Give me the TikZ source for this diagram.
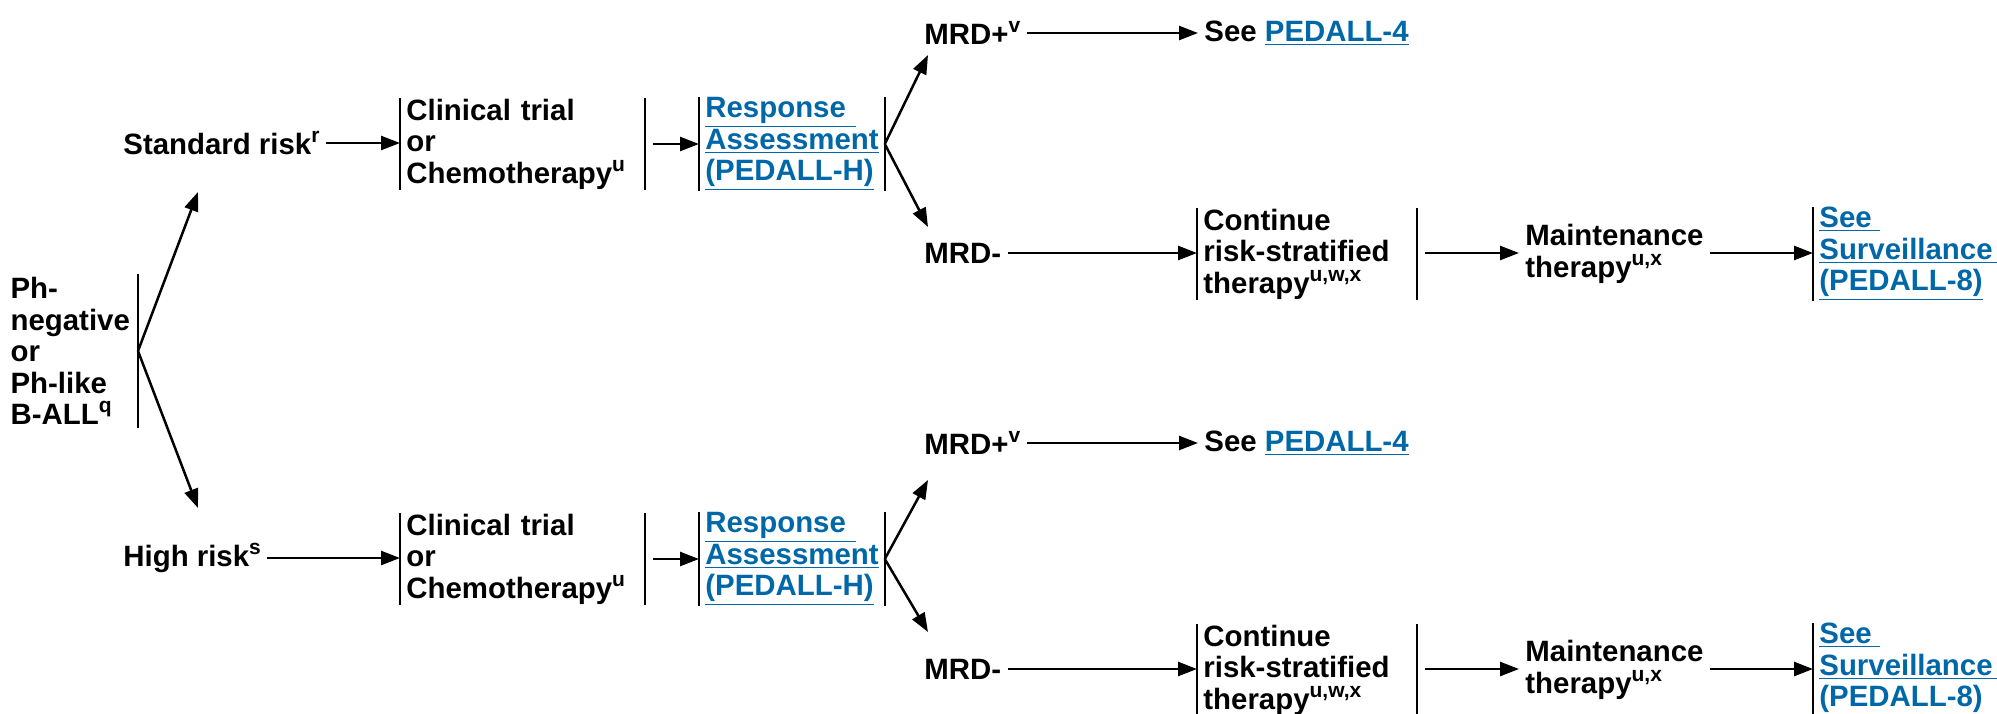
\documentclass[tikz,border=0pt]{standalone}
\usepackage{fontspec}
\setmainfont{Liberation Sans}
\usetikzlibrary{arrows.meta}

\definecolor{linkblue}{RGB}{0,104,168}
\newcommand{\lnk}[1]{\textcolor{linkblue}{\underline{#1}}}
\newcommand{\sups}[1]{\raisebox{0.4em}{\fontsize{10.5}{10.5}\selectfont #1}}

\tikzset{
    txt/.style={anchor=west, align=left, inner xsep=3pt, inner ysep=0pt,
        font=\bfseries\fontsize{14.7}{15.75}\selectfont},
    blk/.style={txt, minimum height=45pt},
    arr/.style={-{Triangle[length=9.5pt,width=7pt]}, line width=1.25pt},
    bar/.style={line width=0.9pt},
}

\begin{document}
\begin{tikzpicture}[x=0.5pt, y=-0.5pt]
    \useasboundingbox (0, 0) rectangle (1997, 713);

    % start
    \node[txt, anchor=east, text width=60.5pt, minimum height=77pt] (ph) at (138, 351)
        {Ph-\\negative\\or\\Ph-like\\B-ALL\sups{q}};
    \draw[bar] (ph.north east) -- (ph.south east);
    \coordinate (stdin) at (198, 192);
    \coordinate (hiin) at (198, 508);
    \draw[arr] (ph.east) -- (stdin);
    \draw[arr] (ph.east) -- (hiin);

    % standard risk
    \node[txt] (std) at (117, 143) {Standard risk\sups{r}};
    \node[blk, text width=116pt] (ct1) at (400, 144) {Clinical trial\\or\\Chemotherapy\sups{u}};
    \node[blk, text width=86.5pt] (ra1) at (699, 144)
        {\lnk{Response }\\\lnk{Assessment}\\\lnk{(PEDALL-H)}};
    \node[txt] (mrdp1) at (918, 33) {MRD+\sups{v}};
    \node[txt] (see1) at (1198, 33) {See \lnk{PEDALL-4}};
    \node[txt] (mrdm1) at (918, 253) {MRD-};
    \node[blk, text width=103.5pt] (co1) at (1197, 254)
        {Continue\\risk-stratified\\therapy\sups{u,w,x}};
    \node[txt] (mt1) at (1519, 254) {Maintenance\\therapy\sups{u,x}};
    \node[blk] (sv1) at (1813, 254) {\lnk{See }\\\lnk{Surveillance }\\\lnk{(PEDALL-8)}};
    \coordinate (up1) at (928, 55);
    \coordinate (dn1) at (928, 227);

    \draw[bar] (ct1.north west) -- (ct1.south west) (ct1.north east) -- (ct1.south east);
    \draw[bar] (ra1.north west) -- (ra1.south west) (ra1.north east) -- (ra1.south east);
    \draw[bar] (co1.north west) -- (co1.south west) (co1.north east) -- (co1.south east);
    \draw[bar] (sv1.north west) -- (sv1.south west);

    \draw[arr] (std) -- (ct1.west |- std);
    \draw[arr, shorten <=4pt] (ct1) -- (ra1);
    \draw[arr] (ra1.east) -- (up1);
    \draw[arr] (ra1.east) -- (dn1);
    \draw[arr] (mrdp1) -- (see1);
    \draw[arr] (mrdm1) -- (co1.west |- mrdm1);
    \draw[arr, shorten <=4pt] (co1.east |- mrdm1) -- (mt1.west |- mrdm1);
    \draw[arr] (mt1.east |- mrdm1) -- (sv1.west |- mrdm1);

    % high risk
    \node[txt] (hi) at (117, 558) {High risk\sups{s}};
    \node[blk, text width=116pt] (ct2) at (400, 559) {Clinical trial\\or\\Chemotherapy\sups{u}};
    \node[blk, text width=86.5pt] (ra2) at (699, 559)
        {\lnk{Response }\\\lnk{Assessment}\\\lnk{(PEDALL-H)}};
    \node[txt] (mrdp2) at (918, 443) {MRD+\sups{v}};
    \node[txt] (see2) at (1198, 443) {See \lnk{PEDALL-4}};
    \node[txt] (mrdm2) at (918, 669) {MRD-};
    \node[blk, text width=103.5pt] (co2) at (1197, 670)
        {Continue\\risk-stratified\\therapy\sups{u,w,x}};
    \node[txt] (mt2) at (1519, 670) {Maintenance\\therapy\sups{u,x}};
    \node[blk] (sv2) at (1813, 670) {\lnk{See }\\\lnk{Surveillance }\\\lnk{(PEDALL-8)}};
    \coordinate (up2) at (928, 480);
    \coordinate (dn2) at (928, 632);

    \draw[bar] (ct2.north west) -- (ct2.south west) (ct2.north east) -- (ct2.south east);
    \draw[bar] (ra2.north west) -- (ra2.south west) (ra2.north east) -- (ra2.south east);
    \draw[bar] (co2.north west) -- (co2.south west) (co2.north east) -- (co2.south east);
    \draw[bar] (sv2.north west) -- (sv2.south west);

    \draw[arr] (hi) -- (ct2.west |- hi);
    \draw[arr, shorten <=4pt] (ct2) -- (ra2);
    \draw[arr] (ra2.east) -- (up2);
    \draw[arr] (ra2.east) -- (dn2);
    \draw[arr] (mrdp2) -- (see2);
    \draw[arr] (mrdm2) -- (co2.west |- mrdm2);
    \draw[arr, shorten <=4pt] (co2.east |- mrdm2) -- (mt2.west |- mrdm2);
    \draw[arr] (mt2.east |- mrdm2) -- (sv2.west |- mrdm2);
\end{tikzpicture}
\end{document}
